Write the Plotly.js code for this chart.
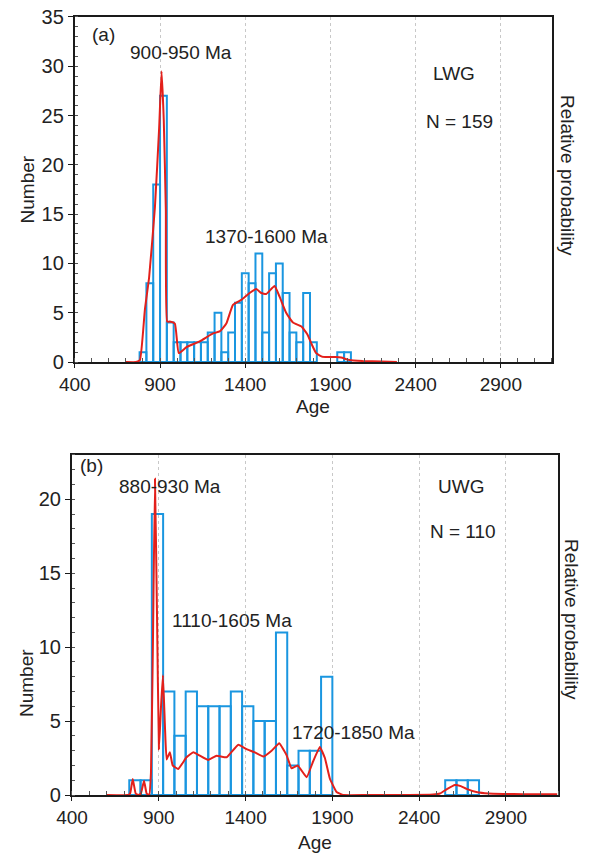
<!DOCTYPE html>
<html>
<head>
<meta charset="utf-8">
<script src="https://cdn.plot.ly/plotly-3.0.1.min.js"></script>
<style>html,body{margin:0;padding:0;background:#fff;}#chart{width:592px;height:853px;}</style>
</head>
<body>
<div id="chart"></div>
<script>
// ---------- Panel (a): LWG ----------
const binWidthA = 40;
const binLeftA = [780, 820, 860, 900, 940, 980, 1020, 1060, 1100, 1140, 1180, 1220, 1260, 1300, 1340, 1380, 1420, 1460, 1500, 1540, 1580, 1620, 1660, 1700, 1740, 1780, 1940, 1980];
const countA   = [1, 8, 18, 27, 4, 2, 2, 2, 2, 2, 3, 5, 1, 3, 6, 9, 8, 11, 3, 9, 10, 7, 3, 2, 7, 2, 1, 1];
const curveAgeA  = [700, 760, 782, 811, 836, 870, 895, 909, 922, 934, 942, 957, 987, 1010, 1055, 1133, 1211, 1250, 1289, 1328, 1377, 1426, 1465, 1494, 1523, 1572, 1602, 1640, 1680, 1730, 1765, 1790, 1816, 1850, 1884, 1930, 1963, 2011, 2089, 2200, 2290];
const curveProbA = [0, 0, 0.2, 5.3, 8.6, 15.7, 23.8, 29.5, 24.5, 15.4, 4.1, 4.1, 3.9, 0.9, 1.5, 2.1, 2.9, 3.1, 3.9, 5.8, 6.3, 7.0, 7.4, 7.0, 6.9, 7.7, 6.6, 5.0, 4.0, 3.6, 2.8, 1.8, 0.9, 0.55, 0.5, 0.5, 0.45, 0.2, 0.1, 0.05, 0];

// ---------- Panel (b): UWG ----------
const binWidthB = 65;
const binLeftB = [730, 795, 860, 925, 990, 1055, 1120, 1185, 1250, 1315, 1380, 1445, 1510, 1575, 1640, 1705, 1770, 1835, 2550, 2615, 2680];
const countB   = [1, 1, 19, 7, 4, 7, 6, 6, 6, 7, 6, 5, 5, 11, 2, 3, 3, 8, 1, 1, 1];
const curveAgeB  = [600, 724, 735, 750, 767, 782, 797, 815, 830, 845, 855, 866, 878, 890, 901, 913, 924, 936, 945, 964, 980, 1012, 1060, 1099, 1137, 1185, 1233, 1291, 1358, 1406, 1450, 1502, 1550, 1594, 1636, 1665, 1700, 1752, 1790, 1828, 1857, 1886, 1924, 1963, 2100, 2300, 2480, 2520, 2560, 2606, 2640, 2673, 2735, 2800, 2885, 3000, 3195];
const curveProbB = [0, 0, 0.1, 1.08, 0.1, 0, 0.1, 0.97, 0.1, 0, 1.5, 10, 21.4, 12, 3.1, 6, 8.1, 4.5, 2.4, 2.9, 2.0, 1.76, 2.55, 2.89, 2.66, 2.37, 2.66, 2.55, 3.4, 3.1, 2.9, 2.6, 3.0, 3.5, 2.7, 1.8, 2.0, 1.2, 2.3, 3.25, 2.5, 1.1, 0.2, 0, 0, 0, 0.03, 0.1, 0.4, 0.68, 0.6, 0.41, 0.18, 0.1, 0.07, 0.05, 0.05];

const xTickVals = [400, 900, 1400, 1900, 2400, 2900];

const BLUE = '#1a96e0', RED = '#e3201b', INK = '#1a1a1a';
const FONT = 'Arial, "Liberation Sans", Helvetica, sans-serif';

const centers = (lefts, w) => lefts.map(v => v + w / 2);

const traces = [
  {type: 'bar', x: centers(binLeftA, binWidthA), y: countA, width: binWidthA,
   xaxis: 'x', yaxis: 'y', marker: {color: 'rgba(0,0,0,0)', line: {color: BLUE, width: 2}}, hoverinfo: 'x+y'},
  {type: 'scatter', mode: 'lines', x: curveAgeA, y: curveProbA, xaxis: 'x', yaxis: 'y3',
   line: {color: RED, width: 2, shape: 'spline', smoothing: 0.4}},
  {type: 'bar', x: centers(binLeftB, binWidthB), y: countB, width: binWidthB,
   xaxis: 'x2', yaxis: 'y2', marker: {color: 'rgba(0,0,0,0)', line: {color: BLUE, width: 2}}, hoverinfo: 'x+y'},
  {type: 'scatter', mode: 'lines', x: curveAgeB, y: curveProbB, xaxis: 'x2', yaxis: 'y4',
   line: {color: RED, width: 2, shape: 'spline', smoothing: 0.3}}
];

function xAxis(domain, anchor) {
  return {domain: domain, anchor: anchor, range: [400, 3200], tickmode: 'array', tickvals: xTickVals,
    showgrid: true, gridcolor: '#c8c8c8', griddash: 'dot', gridwidth: 1, zeroline: false,
    showline: true, mirror: true, linecolor: INK, linewidth: 2,
    ticks: 'outside', ticklen: 4, tickcolor: INK, tickwidth: 1,
    minor: {dtick: 100, tick0: 400, ticks: 'inside', ticklen: 4, tickcolor: '#555', showgrid: false},
    tickfont: {family: FONT, size: 19, color: '#222'}, fixedrange: true};
}
function yAxis(domain, anchor, top) {
  return {domain: domain, anchor: anchor, range: [0, top], dtick: 5, tick0: 0,
    showgrid: false, zeroline: false, showline: true, mirror: true, linecolor: INK, linewidth: 2,
    ticks: 'outside', ticklen: 5, tickcolor: INK, tickwidth: 1,
    minor: {dtick: 1, ticks: 'inside', ticklen: 3, tickcolor: '#555', showgrid: false},
    tickfont: {family: FONT, size: 20, color: '#222'}, fixedrange: true};
}

const domXA = [0.1264, 0.9324], domYA = [0.5756, 0.9801];
const domXB = [0.1216, 0.9426], domYB = [0.068, 0.4666];

const txt = (text, x, y, xref, yref, extra) => Object.assign({
  text: text, x: x, y: y, xref: xref, yref: yref, showarrow: false,
  xanchor: 'center', yanchor: 'middle', font: {family: FONT, size: 19, color: '#222'}}, extra || {});

const layout = {
  width: 592, height: 853, margin: {l: 0, r: 0, t: 0, b: 0},
  paper_bgcolor: '#fff', plot_bgcolor: 'rgba(0,0,0,0)', showlegend: false, bargap: 0,
  xaxis: xAxis(domXA, 'y'),
  yaxis: yAxis(domYA, 'x', 35),
  yaxis3: {overlaying: 'y', anchor: 'x', range: [0, 35], visible: false, fixedrange: true},
  xaxis2: xAxis(domXB, 'y2'),
  yaxis2: yAxis(domYB, 'x2', 23),
  yaxis4: {overlaying: 'y2', anchor: 'x2', range: [0, 23], visible: false, fixedrange: true},
  annotations: [
    // panel a
    txt('(a)', 568, 33.2, 'x', 'y'),
    txt('900-950 Ma', 1025, 31.4, 'x', 'y'),
    txt('LWG', 2626, 29.3, 'x', 'y'),
    txt('N = 159', 2655, 24.4, 'x', 'y'),
    txt('1370-1600 Ma', 1524, 12.7, 'x', 'y'),
    txt('Age', 0.5287, 0.5235, 'paper', 'paper'),
    txt('Number', 0.0456, 0.7779, 'paper', 'paper', {textangle: -90}),
    txt('Relative probability', 0.9595, 0.7948, 'paper', 'paper', {textangle: 90}),
    // panel b
    txt('(b)', 515, 22.3, 'x2', 'y2'),
    txt('880-930 Ma', 964, 20.9, 'x2', 'y2'),
    txt('UWG', 2640, 20.9, 'x2', 'y2'),
    txt('N = 110', 2652, 17.8, 'x2', 'y2'),
    txt('1110-1605 Ma', 1320, 11.8, 'x2', 'y2'),
    txt('1720-1850 Ma', 2024, 4.23, 'x2', 'y2'),
    txt('Age', 0.532, 0.0125, 'paper', 'paper'),
    txt('Number', 0.0456, 0.1993, 'paper', 'paper', {textangle: -90}),
    txt('Relative probability', 0.9645, 0.2732, 'paper', 'paper', {textangle: 90})
  ]
};

Plotly.newPlot('chart', traces, layout, {displayModeBar: false, staticPlot: true});
</script>
</body>
</html>
